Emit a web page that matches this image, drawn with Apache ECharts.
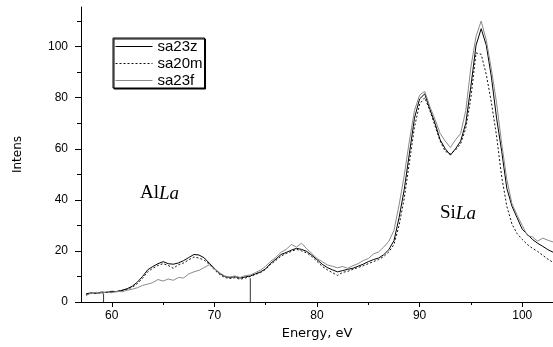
<!DOCTYPE html>
<html>
<head>
<meta charset="utf-8">
<script src="https://cdn.jsdelivr.net/npm/echarts@6/dist/echarts.min.js"></script>
<style>
html,body{margin:0;padding:0;background:#fff;}
#c{width:553px;height:347px;}
</style>
</head>
<body>
<div id="c"></div>
<script>
// Energy grid (eV)
const energy = [
  57.5,58.0,58.5,59.0,59.5,60.0,60.5,61.0,61.5,62.0,
  62.5,63.0,63.5,64.0,64.5,65.0,65.5,66.0,66.5,67.0,
  67.5,68.0,68.5,69.0,69.5,70.0,70.5,71.0,71.5,72.0,
  72.5,73.0,73.5,74.0,74.5,75.0,75.5,76.0,76.5,77.0,
  77.5,78.0,78.5,79.0,79.5,80.0,80.5,81.0,81.5,82.0,
  82.5,83.0,83.5,84.0,84.5,85.0,85.5,86.0,86.5,87.0,
  87.5,88.0,88.5,89.0,89.5,90.0,90.5,91.0,91.5,92.0,
  92.5,93.0,93.5,94.0,94.5,95.0,95.5,96.0,96.5,97.0,
  97.5,98.0,98.5,99.0,99.5,100.0,100.5,101.0,101.5,102.0,
  102.5,103.0
];
const sa23z = [
  3.2,3.6,3.4,3.9,3.7,4.2,4.0,4.6,5.2,6.2,
  7.8,10.0,12.6,13.9,15.0,15.8,15.0,14.8,15.3,16.2,
  17.4,18.6,18.4,17.3,15.2,13.2,11.2,10.0,9.6,9.9,
  9.4,9.8,10.2,11.0,11.8,13.0,15.2,16.8,18.6,19.4,
  20.3,21.0,20.6,19.8,18.3,16.6,14.8,13.5,12.6,11.8,
  12.3,12.8,13.2,14.0,14.8,15.8,16.6,17.2,18.5,20.5,
  24.0,33.0,44.0,58.0,72.0,79.5,81.5,75.5,70.0,63.5,
  60.0,57.5,60.0,63.0,70.0,84.5,100.5,107.0,100.5,88.0,
  72.0,59.0,44.5,37.5,33.0,28.5,26.5,24.5,23.0,21.8,
  20.5,19.5
];
const sa20m = [
  3.0,3.4,3.6,3.5,3.9,3.8,4.3,4.5,5.0,5.8,
  7.2,9.3,11.8,13.2,14.3,15.0,14.3,13.2,14.6,15.3,
  16.5,17.6,17.2,16.4,14.8,12.6,10.8,9.6,9.2,9.5,
  8.9,9.4,10.0,10.8,11.5,12.8,14.8,16.3,18.0,19.0,
  19.8,20.6,20.0,19.2,17.8,15.9,14.0,12.6,11.5,10.4,
  11.6,12.0,12.8,13.5,14.2,15.0,15.8,16.6,17.8,19.6,
  22.5,30.0,40.5,54.5,68.5,77.5,80.0,75.0,69.0,63.0,
  59.0,58.0,59.5,62.0,68.0,80.0,97.5,97.0,89.0,78.0,
  65.0,49.0,37.5,30.5,26.8,24.5,22.5,21.0,19.8,18.3,
  16.8,15.5
];
const sa23f = [
  2.5,3.5,3.8,3.4,4.0,3.6,4.2,4.0,4.6,5.0,
  5.6,6.5,7.0,7.6,8.8,8.2,9.0,8.5,9.6,9.4,
  11.0,11.8,12.4,13.5,14.6,13.0,11.5,10.2,9.8,10.2,
  9.6,10.3,10.6,11.5,12.5,14.0,16.0,17.5,19.5,20.6,
  22.5,21.5,23.0,20.8,19.0,17.0,15.8,14.5,14.0,13.4,
  13.9,13.2,14.2,15.0,16.2,17.0,18.8,19.6,21.5,23.8,
  28.0,38.0,49.5,63.0,75.0,81.0,82.5,76.5,71.5,66.0,
  63.0,60.5,63.5,66.0,75.0,92.0,104.0,110.0,102.5,91.0,
  78.0,62.0,48.0,38.5,34.0,30.0,26.0,25.5,23.8,25.0,
  24.2,23.5
];
// integration boundary markers: [energy, height]
const dropLines = [[59.2, 3.3], [73.5, 9.3]];
const xMajorTicks = [60, 70, 80, 90, 100];
const xMinorTicks = [65, 75, 85, 95];
const yMajorTicks = [0, 20, 40, 60, 80, 100];
const yMinorTicks = [10, 30, 50, 70, 90, 110];

const pair = (arr) => energy.map((e, i) => [e, arr[i]]);
const sans = 'Liberation Sans, Arial, sans-serif';

const chart = echarts.init(document.getElementById('c'), null, {renderer: 'canvas'});
const series = [
  {name: 'sa23z', type: 'line', data: pair(sa23z), showSymbol: false, symbol: 'none',
   lineStyle: {color: '#000', width: 1}, itemStyle: {color: '#000'}, z: 3},
  {name: 'sa20m', type: 'line', data: pair(sa20m), showSymbol: false, symbol: 'none',
   lineStyle: {color: '#111', width: 1, type: [2, 2]}, itemStyle: {color: '#111'}, z: 2},
  {name: 'sa23f', type: 'line', data: pair(sa23f), showSymbol: false, symbol: 'none',
   lineStyle: {color: '#8a8a8a', width: 1}, itemStyle: {color: '#8a8a8a'}, z: 4}
];
dropLines.forEach((d) => {
  series.push({type: 'line', data: [[d[0], 0], [d[0], d[1]]], showSymbol: false, symbol: 'none',
    lineStyle: {color: '#333', width: 1}, silent: true, z: 1});
});

chart.setOption({
  animation: false,
  backgroundColor: '#fff',
  grid: {left: 81, right: 0, top: 7, bottom: 45, containLabel: false},
  legend: {
    data: ['sa23z', 'sa20m', 'sa23f'],
    orient: 'vertical', left: 113, top: 38,
    itemWidth: 37, itemHeight: 12, itemGap: 2,
    padding: [1, 2, 0, 2],
    borderColor: '#000', borderWidth: 1,
    shadowColor: '#000', shadowOffsetX: 1, shadowOffsetY: 1, shadowBlur: 0,
    backgroundColor: '#fff',
    itemStyle: {opacity: 0},
    lineStyle: {width: 1},
    textStyle: {fontFamily: sans, fontSize: 15, color: '#000', padding: [0,0,0,0]}
  },
  xAxis: [{
    type: 'value', min: 57, max: 103,
    name: 'Energy, eV', nameLocation: 'middle', nameGap: 24,
    nameTextStyle: {fontFamily: 'DejaVu Sans, sans-serif', fontSize: 13, color: '#000'},
    axisLine: {show: true, onZero: false, lineStyle: {color: '#000', width: 1}},
    axisTick: {show: true, inside: false, length: 5, customValues: xMajorTicks, lineStyle: {color: '#000'}},
    axisLabel: {customValues: xMajorTicks, fontFamily: sans, fontSize: 12, color: '#000', margin: 8},
    splitLine: {show: false}
  }, {
    type: 'value', min: 57, max: 103, position: 'bottom', offset: 0,
    axisLine: {show: false},
    axisTick: {show: true, length: 3, customValues: xMinorTicks, lineStyle: {color: '#000'}},
    axisLabel: {show: false},
    splitLine: {show: false}
  }],
  yAxis: [{
    type: 'value', min: 0, max: 115.5,
    name: 'Intens', nameLocation: 'middle', nameGap: 57,
    nameTextStyle: {fontFamily: 'DejaVu Sans, sans-serif', fontSize: 12, color: '#000'},
    axisLine: {show: true, onZero: false, lineStyle: {color: '#000', width: 1}},
    axisTick: {show: true, inside: false, length: 6, customValues: yMajorTicks, lineStyle: {color: '#000'}},
    axisLabel: {customValues: yMajorTicks, fontFamily: sans, fontSize: 12, color: '#000', margin: 13},
    splitLine: {show: false}
  }, {
    type: 'value', min: 0, max: 115.5, position: 'left', offset: 0,
    axisLine: {show: false},
    axisTick: {show: true, length: 4, customValues: yMinorTicks, lineStyle: {color: '#000'}},
    axisLabel: {show: false},
    splitLine: {show: false}
  }],
  series: series,
  graphic: [
    {type: 'text', left: 140, top: 184, silent: true,
     style: {text: '{n|Al}{i|La}', rich: {
       n: {fontFamily: 'Liberation Serif, Times New Roman, serif', fontSize: 19, fill: '#000', color: '#000'},
       i: {fontFamily: 'Liberation Serif, Times New Roman, serif', fontSize: 19, fontStyle: 'italic', fill: '#000', color: '#000'}
     }}},
    {type: 'text', left: 440, top: 204, silent: true,
     style: {text: '{n|Si}{i|La}', rich: {
       n: {fontFamily: 'Liberation Serif, Times New Roman, serif', fontSize: 19, fill: '#000', color: '#000'},
       i: {fontFamily: 'Liberation Serif, Times New Roman, serif', fontSize: 19, fontStyle: 'italic', fill: '#000', color: '#000'}
     }}}
  ]
});
</script>
</body>
</html>
